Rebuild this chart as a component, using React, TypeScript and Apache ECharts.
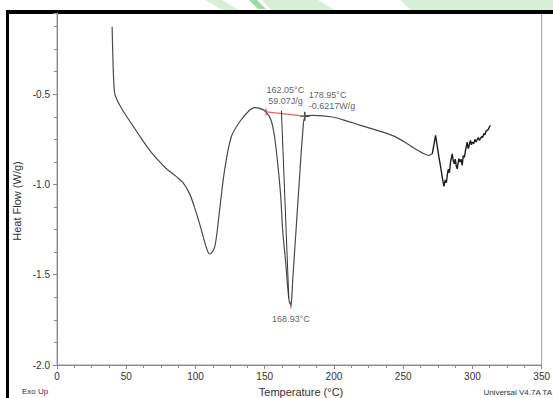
import React, { useEffect, useRef } from "react";
import * as echarts from "echarts";

// Main DSC trace (temperature °C, heat flow W/g)
const temperature = [
  39.8, 40.3, 41.0, 41.8, 44.1, 48.3, 53.8, 60, 67, 73, 79, 86, 91, 95.8, 99, 103, 107.8, 110.2, 112,
  113.8, 115.5, 117.4, 121, 125.8, 131.8, 139, 142.6, 147, 151, 154.6, 157, 159.4, 161.5, 163, 165,
  166.6, 167.8, 168.9, 169.6, 170.2, 172.6, 175, 177.4, 179.3, 185, 199, 210, 223, 242, 250, 256.6,
  263, 268.6, 271,
];
const heatFlow = [
  -0.126, -0.283, -0.432, -0.5, -0.543, -0.6, -0.663, -0.735, -0.811, -0.865, -0.913, -0.955, -0.99,
  -1.052, -1.12, -1.218, -1.348, -1.385, -1.375, -1.348, -1.27, -1.144, -0.922, -0.737, -0.654,
  -0.589, -0.574, -0.58, -0.598, -0.644, -0.73, -0.885, -1.06, -1.256, -1.42, -1.57, -1.65, -1.667,
  -1.62, -1.533, -1.256, -0.978, -0.718, -0.622, -0.617, -0.626, -0.65, -0.681, -0.728, -0.76,
  -0.793, -0.822, -0.839, -0.83,
];
// Noisy tail of the trace
const tailTemperature = [
  271, 273.4, 275.8, 277.2, 278.2, 279.4, 280.4, 281.2, 281.8, 282.6, 283.4, 284.2, 285.4, 286.2,
  286.9, 287.6, 288.4, 289, 289.7, 290.2, 291.1, 291.8, 292.6, 293.4, 294.2, 295, 295.6, 296.2,
  296.9, 297.4, 298, 298.6, 299.3, 300.1, 301, 301.8, 302.6, 303.4, 304.3, 305, 305.8, 306.6,
  307.4, 308.2, 309, 309.8, 310.6, 311.5, 312.3, 313,
];
const tailHeatFlow = [
  -0.83, -0.728, -0.848, -0.91, -0.959, -1.011, -0.975, -0.99, -0.95, -0.915, -0.935, -0.876,
  -0.83, -0.87, -0.885, -0.86, -0.9, -0.913, -0.88, -0.857, -0.875, -0.86, -0.894, -0.84, -0.85,
  -0.811, -0.79, -0.765, -0.8, -0.793, -0.77, -0.756, -0.78, -0.765, -0.774, -0.75, -0.765,
  -0.752, -0.74, -0.755, -0.746, -0.735, -0.74, -0.718, -0.725, -0.705, -0.7, -0.695, -0.68, -0.672,
];
// Integration baseline and onset tangent
const baselineTemperature = [151, 178.95];
const baselineHeatFlow = [-0.598, -0.6217];
const tangentTemperature = [162.05, 167.4];
const tangentHeatFlow = [-0.59, -1.63];
// Annotations
const onsetPoint = [162.05, -0.59];
const onsetText = ["162.05°C", "59.07J/g"];
const endPoint = [178.95, -0.6217];
const endText = ["178.95°C", "-0.6217W/g"];
const peakPoint = [168.93, -1.667];
const peakText = ["168.93°C"];
const startPoint = [151, -0.598];

const xMin = 0, xMax = 350, xStep = 50;
const yMin = -2.0, yMax = -0.05, yStep = 0.5;

const FONT = "'Liberation Sans', Arial, sans-serif";

const zip = (a: number[], b: number[]) => a.map((v, i) => [v, b[i]]);

export default function App() {
  const ref = useRef<HTMLDivElement>(null);
  useEffect(() => {
    if (!ref.current) return;
    const chart = echarts.init(ref.current, undefined, { renderer: "svg" });
    const option: any = {
      animation: false,
      backgroundColor: "#ffffff",
      grid: {
        left: 57, right: 10, top: 13, bottom: 33,
        show: true, borderColor: "#9a9a9a", borderWidth: 1, backgroundColor: "transparent",
      },
      xAxis: {
        type: "value", min: xMin, max: xMax, interval: xStep,
        axisLine: { show: true, onZero: false, lineStyle: { color: "#8a8a8a", width: 1 } },
        axisTick: { show: true, length: 4, lineStyle: { color: "#8a8a8a" } },
        minorTick: { show: true, splitNumber: 4, length: 3, lineStyle: { color: "#8a8a8a" } },
        splitLine: { show: false },
        axisLabel: { color: "#333", fontSize: 10, fontFamily: FONT, margin: 6 },
      },
      yAxis: {
        type: "value", min: yMin, max: yMax, interval: yStep,
        axisLine: { show: true, onZero: false, lineStyle: { color: "#8a8a8a", width: 1 } },
        axisTick: { show: true, length: 4, lineStyle: { color: "#8a8a8a" } },
        minorTick: { show: true, splitNumber: 4, length: 3, lineStyle: { color: "#8a8a8a" } },
        splitLine: { show: false },
        axisLabel: {
          color: "#333", fontSize: 10, fontFamily: FONT, margin: 7,
          formatter: (v: number) => (Math.abs(v / yStep - Math.round(v / yStep)) < 1e-6 ? v.toFixed(1) : ""),
        },
      },
      graphic: [
        { type: "polygon", shape: { points: [[205, 0], [222, 0], [240, 11], [224, 11]] }, style: { fill: "#d7eed7" }, silent: true },
        { type: "polygon", shape: { points: [[249, 0], [257, 0], [266, 9], [258, 9]] }, style: { fill: "#9edb9e" }, silent: true },
        { type: "polygon", shape: { points: [[262, 0], [318, 0], [336, 11], [272, 11]] }, style: { fill: "#d7eed7" }, silent: true },
        { type: "polygon", shape: { points: [[400, 0], [553, 0], [553, 11], [412, 11]] }, style: { fill: "#d7eed7" }, silent: true },
        { type: "rect", shape: { x: 6, y: 10, width: 547, height: 4 }, style: { fill: "#000" }, silent: true },
        { type: "rect", shape: { x: 6, y: 10, width: 3, height: 388 }, style: { fill: "#000" }, silent: true },
        {
          type: "text", x: 17, y: 201, rotation: Math.PI / 2,
          style: { text: "Heat Flow (W/g)", fill: "#333", font: `11px ${FONT}`, align: "center", verticalAlign: "middle" },
        },
        {
          type: "text", x: 301, y: 392,
          style: { text: "Temperature (°C)", fill: "#333", font: `11px ${FONT}`, align: "center", verticalAlign: "middle" },
        },
        {
          type: "text", x: 22, y: 391,
          style: { text: "Exo Up", fill: "#333", font: `8px ${FONT}`, align: "left", verticalAlign: "middle" },
        },
        {
          type: "text", x: 552, y: 392,
          style: { text: "Universal V4.7A TA", fill: "#333", font: `8px ${FONT}`, align: "right", verticalAlign: "middle" },
        },
      ],
      series: [
        {
          type: "line", data: zip(temperature, heatFlow), showSymbol: false, smooth: 0.3,
          lineStyle: { color: "#4a4a4a", width: 1.2 }, silent: true,
        },
        {
          type: "line", data: zip(tailTemperature, tailHeatFlow), showSymbol: false, smooth: false,
          lineStyle: { color: "#1e1e1e", width: 1.4 }, silent: true,
        },
        {
          type: "line", data: zip(baselineTemperature, baselineHeatFlow), showSymbol: false,
          lineStyle: { color: "#e46a6a", width: 1.3 }, silent: true,
        },
        {
          type: "line", data: zip(tangentTemperature, tangentHeatFlow), showSymbol: false,
          lineStyle: { color: "#333", width: 1 }, silent: true,
        },
        {
          type: "scatter", silent: true,
          data: [
            { value: startPoint, symbol: "rect", symbolSize: [1.5, 7], itemStyle: { color: "#e04848" } },
            { value: peakPoint, symbol: "rect", symbolSize: [1.5, 7], itemStyle: { color: "#e04848" } },
            { value: endPoint, symbol: "rect", symbolSize: [1.5, 9], itemStyle: { color: "#111" } },
            { value: endPoint, symbol: "rect", symbolSize: [9, 1.5], itemStyle: { color: "#111" } },
          ],
        },
        {
          type: "scatter", silent: true, symbolSize: 0,
          label: { show: true, fontSize: 9, fontFamily: FONT, color: "#333", lineHeight: 11 },
          data: [
            { value: onsetPoint, label: { position: "top", distance: 4, offset: [4, 0], align: "center", formatter: onsetText.join("\n") } },
            { value: endPoint, label: { position: "top", distance: 5, offset: [4, 0], align: "left", formatter: endText.join("\n") } },
            { value: peakPoint, label: { position: "bottom", distance: 9, formatter: peakText.join("\n") } },
          ],
        },
      ],
    };
    chart.setOption(option);
    return () => chart.dispose();
  }, []);
  return <div ref={ref} style={{ position: "fixed", left: 0, top: 0, width: 553, height: 398 }} />;
}
